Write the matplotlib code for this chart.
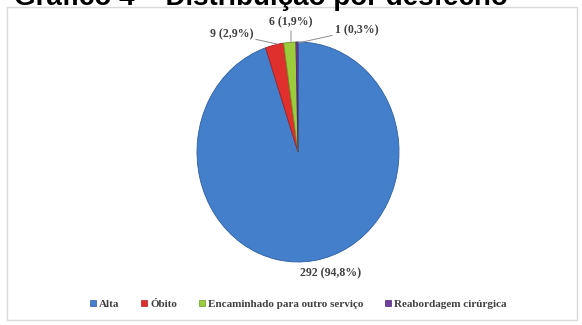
import matplotlib
matplotlib.use("Agg")
import matplotlib.pyplot as plt
from matplotlib.patches import Rectangle
from matplotlib.lines import Line2D

categorias = ["Alta", "Óbito", "Encaminhado para outro serviço", "Reabordagem cirúrgica"]
pacientes = [292, 9, 6, 1]
cores = ["#437FCB", "#E0302E", "#9CCB3B", "#6E3FA0"]
bordas = ["#2F5F9E", "#A02020", "#6E9628", "#4A2870"]

W, H = 582, 325
fig = plt.figure(figsize=(W / 100, H / 100), dpi=100)

# moldura do gráfico
fig.add_artist(Rectangle((7 / W, 1 - 320 / H), 570 / W, 313 / H,
                         transform=fig.transFigure, fill=False,
                         edgecolor="#D9D9D9", linewidth=1))

fig.text(14 / W, 1 - 5 / H, "Gráfico 4 – Distribuição por desfecho",
         fontsize=20, fontweight="bold", family="Liberation Sans",
         ha="left", va="baseline", color="black")

# eixo da pizza (levemente mais alta que larga)
cx, cy, rx, ry = 298, 152, 101, 110
ax = fig.add_axes([(cx - rx) / W, 1 - (cy + ry) / H, 2 * rx / W, 2 * ry / H])
wedges, _ = ax.pie(pacientes, colors=cores, startangle=90, counterclock=False,
                   radius=1, wedgeprops=dict(linewidth=0.6))
for w, b in zip(wedges, bordas):
    w.set_edgecolor(b)
ax.set_xlim(-1, 1)
ax.set_ylim(-1, 1)
ax.set_aspect("auto")
ax.axis("off")

total = sum(pacientes)
rotulos = [f"{n} ({n / total * 100:.1f}%)".replace(".", ",") for n in pacientes]


def px(x, y):
    # pixel da figura -> coordenadas de dados do eixo da pizza
    return ((x - cx) / rx, (cy - y) / ry)


fonte = dict(fontsize=8.5, fontweight="bold", family="Liberation Serif", color="#404040")
linha = dict(arrowstyle="-", color="#8C8C8C", lw=0.7, shrinkA=0, shrinkB=0)

ax.annotate(rotulos[0], xy=px(331, 273), ha="center", va="center",
            annotation_clip=False, **fonte)
ax.annotate(rotulos[1], xy=px(277, 44), xytext=px(253, 34), ha="right", va="center",
            arrowprops=linha, annotation_clip=False, **fonte)
ax.annotate(rotulos[2], xy=px(291, 43), xytext=px(291, 28), ha="center", va="bottom",
            arrowprops=linha, annotation_clip=False, **fonte)
ax.annotate(rotulos[3], xy=px(298, 43), xytext=px(335, 30), ha="left", va="center",
            arrowprops=linha, annotation_clip=False, **fonte)

alcas = [Line2D([], [], marker="s", linestyle="", markersize=4.5,
                markerfacecolor=c, markeredgecolor=b, markeredgewidth=0.5)
         for c, b in zip(cores, bordas)]
leg = fig.legend(alcas, categorias, loc="center", ncol=4,
                 bbox_to_anchor=(298 / W, 1 - 304 / H), frameon=False,
                 handlelength=0.6, handletextpad=0.25, columnspacing=1.9,
                 prop=dict(size=8, weight="bold", family="Liberation Serif"))
for t in leg.get_texts():
    t.set_color("#404040")

fig.savefig("out.png", dpi=100)
